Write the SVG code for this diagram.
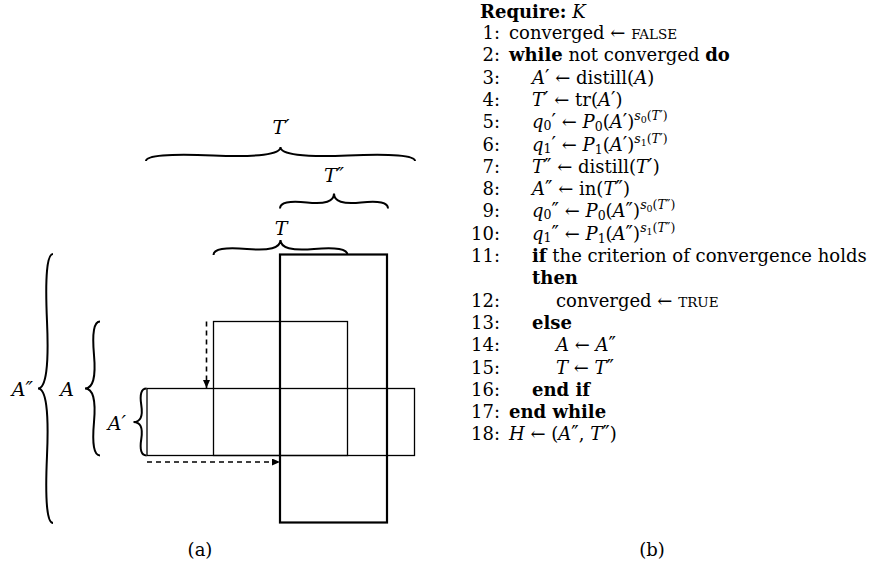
<svg xmlns="http://www.w3.org/2000/svg" width="883" height="577" viewBox="0 0 883 577">
<style>
text{font-family:"DejaVu Serif","Liberation Serif",serif;font-size:18px;fill:#000}
.b{font-weight:bold}
.i{font-style:italic}
.p{font-size:20px}
.s{font-size:12.5px}
.ss{font-size:9.5px}
.sc{font-size:13.5px}
.lbl{font-size:19px;font-style:italic}
.num{text-anchor:end}
.box{fill:none;stroke:#000;stroke-width:1.3}
.thick{fill:none;stroke:#000;stroke-width:2.2}
.brace{fill:none;stroke:#000;stroke-width:2}
.dash{fill:none;stroke:#000;stroke-width:1.6;stroke-dasharray:5,4}
</style>
<defs>
<marker id="ah" markerUnits="userSpaceOnUse" markerWidth="9" markerHeight="8" refX="8" refY="3.5" orient="auto">
<path d="M0,0 L8,3.5 L0,7 z" fill="#000"/>
</marker>
</defs>

<g id="diagram-a">
<g id="rect-A-prime"><rect class="box" x="147" y="388.5" width="267.5" height="67"/></g>
<g id="rect-A"><rect class="box" x="213.5" y="321.5" width="134" height="134"/></g>
<g id="rect-T"><rect class="thick" x="280" y="254.5" width="107" height="268"/></g>

<g id="connectors">
<line class="dash" x1="206.5" y1="321.5" x2="206.5" y2="388" marker-end="url(#ah)"/>
<line class="dash" x1="147" y1="462" x2="280" y2="462" marker-end="url(#ah)"/>
</g>

<g id="brace-T-prime">
<path class="brace" d="M146,161 Q146,152.6 213.25,155.4 T280.5,147 M415,161 Q415,152.6 347.75,155.4 T280.5,147"/>
<text class="lbl" x="281" y="134" text-anchor="middle">T<tspan class="p">′</tspan></text>
</g>
<g id="brace-T-dprime">
<path class="brace" d="M280,208.5 Q280,199.5 307,202.5 T334,193.5 M388,208.5 Q388,199.5 361,202.5 T334,193.5"/>
<text class="lbl" x="334" y="182" text-anchor="middle">T<tspan class="p">″</tspan></text>
</g>
<g id="brace-T">
<path class="brace" d="M213.5,255 Q213.5,246 247,249 T280.5,240 M347.5,255 Q347.5,246 314,249 T280.5,240"/>
<text class="lbl" x="281" y="235" text-anchor="middle">T</text>
</g>
<g id="brace-A-dprime">
<path class="brace" d="M53,254 Q44,254 47,321.25 T38,388.5 M53,523 Q44,523 47,455.75 T38,388.5"/>
<text class="lbl" x="33" y="396" text-anchor="end">A<tspan class="p">″</tspan></text>
</g>
<g id="brace-A">
<path class="brace" d="M100,321.5 Q91,321.5 94,355 T85,388.5 M100,455.5 Q91,455.5 94,422 T85,388.5"/>
<text class="lbl" x="74" y="396" text-anchor="end">A</text>
</g>
<g id="brace-A-prime">
<path class="brace" d="M146.5,388.5 Q138.7,388.5 141.3,405.25 T133.5,422 M146.5,455.5 Q138.7,455.5 141.3,438.75 T133.5,422"/>
<text class="lbl" x="126" y="430" text-anchor="end">A<tspan class="p">′</tspan></text>
</g>
<text id="caption-a" x="200" y="556" text-anchor="middle">(a)</text>
</g>

<g id="algorithm-b">
<text x="480" y="18"><tspan class="b">Require:</tspan> <tspan class="i">K</tspan></text>

<text class="num" x="500" y="39">1:</text>
<text x="509" y="39">converged ← <tspan class="sc">FALSE</tspan></text>

<text class="num" x="500" y="61.3">2:</text>
<text x="509" y="61.3"><tspan class="b">while</tspan> not converged <tspan class="b">do</tspan></text>

<text class="num" x="500" y="83.6">3:</text>
<text x="532" y="83.6"><tspan class="i">A</tspan><tspan class="p">′</tspan> ← distill(<tspan class="i">A</tspan>)</text>

<text class="num" x="500" y="105.9">4:</text>
<text x="532" y="105.9"><tspan class="i">T</tspan><tspan class="p">′</tspan> ← tr(<tspan class="i">A</tspan><tspan class="p">′</tspan>)</text>

<text class="num" x="500" y="128.2">5:</text>
<text x="532" y="128.2"><tspan class="i">q</tspan><tspan class="s" dy="2">0</tspan><tspan class="p" dy="-2">′</tspan> ← <tspan class="i">P</tspan><tspan class="s" dy="3">0</tspan><tspan dy="-3">(</tspan><tspan class="i">A</tspan><tspan class="p">′</tspan>)<tspan class="s i" dy="-8">s</tspan><tspan class="ss" dy="3">0</tspan><tspan class="s" dy="-3">(</tspan><tspan class="s i">T</tspan><tspan class="s">′)</tspan></text>

<text class="num" x="500" y="150.5">6:</text>
<text x="532" y="150.5"><tspan class="i">q</tspan><tspan class="s" dy="2">1</tspan><tspan class="p" dy="-2">′</tspan> ← <tspan class="i">P</tspan><tspan class="s" dy="3">1</tspan><tspan dy="-3">(</tspan><tspan class="i">A</tspan><tspan class="p">′</tspan>)<tspan class="s i" dy="-8">s</tspan><tspan class="ss" dy="3">1</tspan><tspan class="s" dy="-3">(</tspan><tspan class="s i">T</tspan><tspan class="s">′)</tspan></text>

<text class="num" x="500" y="172.8">7:</text>
<text x="532" y="172.8"><tspan class="i">T</tspan><tspan class="p">″</tspan> ← distill(<tspan class="i">T</tspan><tspan class="p">′</tspan>)</text>

<text class="num" x="500" y="195.1">8:</text>
<text x="532" y="195.1"><tspan class="i">A</tspan><tspan class="p">″</tspan> ← in(<tspan class="i">T</tspan><tspan class="p">″</tspan>)</text>

<text class="num" x="500" y="217.4">9:</text>
<text x="532" y="217.4"><tspan class="i">q</tspan><tspan class="s" dy="2">0</tspan><tspan class="p" dy="-2">″</tspan> ← <tspan class="i">P</tspan><tspan class="s" dy="3">0</tspan><tspan dy="-3">(</tspan><tspan class="i">A</tspan><tspan class="p">″</tspan>)<tspan class="s i" dy="-8">s</tspan><tspan class="ss" dy="3">0</tspan><tspan class="s" dy="-3">(</tspan><tspan class="s i">T</tspan><tspan class="s">″)</tspan></text>

<text class="num" x="500" y="239.7">10:</text>
<text x="532" y="239.7"><tspan class="i">q</tspan><tspan class="s" dy="2">1</tspan><tspan class="p" dy="-2">″</tspan> ← <tspan class="i">P</tspan><tspan class="s" dy="3">1</tspan><tspan dy="-3">(</tspan><tspan class="i">A</tspan><tspan class="p">″</tspan>)<tspan class="s i" dy="-8">s</tspan><tspan class="ss" dy="3">1</tspan><tspan class="s" dy="-3">(</tspan><tspan class="s i">T</tspan><tspan class="s">″)</tspan></text>

<text class="num" x="500" y="262">11:</text>
<text x="532" y="262"><tspan class="b">if</tspan> the criterion of convergence holds</text>
<text class="b" x="532" y="284.3">then</text>

<text class="num" x="500" y="306.6">12:</text>
<text x="556" y="306.6">converged ← <tspan class="sc">TRUE</tspan></text>

<text class="num" x="500" y="328.9">13:</text>
<text class="b" x="532" y="328.9">else</text>

<text class="num" x="500" y="351.2">14:</text>
<text x="556" y="351.2"><tspan class="i">A</tspan> ← <tspan class="i">A</tspan><tspan class="p">″</tspan></text>

<text class="num" x="500" y="373.5">15:</text>
<text x="556" y="373.5"><tspan class="i">T</tspan> ← <tspan class="i">T</tspan><tspan class="p">″</tspan></text>

<text class="num" x="500" y="395.8">16:</text>
<text class="b" x="532" y="395.8">end if</text>

<text class="num" x="500" y="418.1">17:</text>
<text class="b" x="509" y="418.1">end while</text>

<text class="num" x="500" y="440.4">18:</text>
<text x="509" y="440.4"><tspan class="i">H</tspan> ← (<tspan class="i">A</tspan><tspan class="p">″</tspan>, <tspan class="i">T</tspan><tspan class="p">″</tspan>)</text>

<text id="caption-b" x="652" y="556" text-anchor="middle">(b)</text>
</g>
</svg>
